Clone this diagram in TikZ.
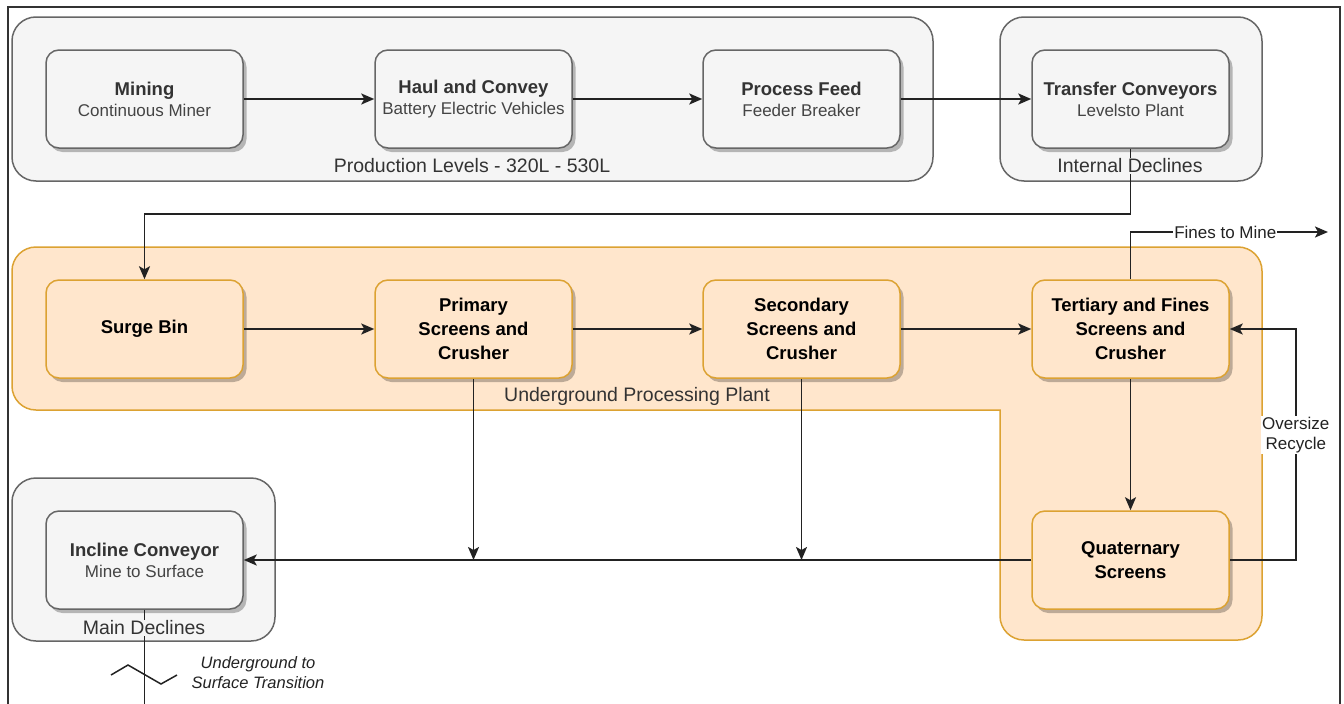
\documentclass[tikz,border=0pt]{standalone}
\usepackage{fontspec}
\setmainfont{Liberation Sans}
\usetikzlibrary{arrows.meta,shadows,calc}

\definecolor{grpfill}{HTML}{F5F5F5}
\definecolor{grpline}{HTML}{666666}
\definecolor{orfill}{HTML}{FFE6CC}
\definecolor{orline}{HTML}{DCA232}
\definecolor{txtdark}{HTML}{333333}
\definecolor{txtsub}{HTML}{444444}
\definecolor{wire}{HTML}{222222}

\tikzset{
  basebox/.style={rounded corners=13pt, minimum width=197pt, minimum height=98pt,
    line width=1.5pt, align=center, inner sep=2pt,
    general shadow={shadow xshift=3.5pt, shadow yshift=-4pt, fill=black, opacity=0.26}},
  graybox/.style={basebox, draw=grpline, fill=grpfill, text=txtdark,
    font=\fontsize{18.5}{22}\selectfont\bfseries},
  orangebox/.style={basebox, draw=orline, fill=orfill, text=black,
    font=\fontsize{18.5}{24}\selectfont\bfseries},
  grpframe/.style={draw=grpline, fill=grpfill, line width=1.5pt, rounded corners=24pt},
  plantframe/.style={draw=orline, fill=orfill, line width=1.5pt},
  grplabel/.style={font=\fontsize{19.5}{22}\selectfont, text=txtdark, inner sep=1pt},
  flow/.style={draw=wire, line width=1.9pt, -{Stealth[length=13pt,width=11pt,inset=3pt]}},
  plain/.style={draw=wire, line width=1.9pt},
  edgelabel/.style={font=\fontsize{17}{20}\selectfont, text=wire, fill=white, inner sep=1pt, align=center},
}

\newcommand{\subline}[1]{\\[-1pt]{\fontsize{17}{20}\selectfont\mdseries\color{txtsub}#1}}

\begin{document}
\begin{tikzpicture}[x=1pt,y=-1pt]
\useasboundingbox (0,0) rectangle (1344,704);

% outer frame (open at the bottom)
\draw[line width=2.2pt, draw=txtdark] (8,710) -- (8,7) -- (1340,7) -- (1340,710);

% group frames
\draw[grpframe] (12,17) rectangle (933,181);
\draw[grpframe] (1000,17) rectangle (1262,181);
\draw[grpframe] (12,478) rectangle (275,641);
\draw[plantframe, rounded corners=24pt]
  (12,330) -- (12,247) -- (1262,247) -- (1262,640) -- (1000,640) -- (1000,500)
  [sharp corners] -- (1000,410) -- (200,410)
  [rounded corners=24pt] -- (12,410) -- cycle;

% production levels
\node[graybox] (mining)   at (144.5,99)  {Mining\subline{Continuous Miner}};
\node[graybox] (haul)     at (473.5,99)  {Haul and Convey\subline{Battery Electric Vehicles}};
\node[graybox] (feed)     at (801.5,99)  {Process Feed\subline{Feeder Breaker}};
\node[graybox] (transfer) at (1130.5,99) {Transfer Conveyors\subline{Levelsto Plant}};

% processing plant
\node[orangebox] (surge)  at (144.5,329)  {Surge Bin};
\node[orangebox] (prim)   at (473.5,329)  {Primary\\Screens and\\Crusher};
\node[orangebox] (sec)    at (801.5,329)  {Secondary\\Screens and\\Crusher};
\node[orangebox] (tert)   at (1130.5,329) {Tertiary and Fines\\Screens and\\Crusher};
\node[orangebox] (quat)   at (1130.5,560) {Quaternary\\Screens};

% main declines
\node[graybox] (incline)  at (144.5,560)  {Incline Conveyor\subline{Mine to Surface}};

\coordinate (finesEnd) at (1328,232);
\coordinate (surface)  at (144.5,712);

% connectors
\draw[flow] (mining) -- (haul);
\draw[flow] (haul) -- (feed);
\draw[flow] (feed) -- (transfer);
\draw[flow] (transfer.south) -- ++(0,65) -| (surge.north);
\draw[flow] (surge) -- (prim);
\draw[flow] (prim) -- (sec);
\draw[flow] (sec) -- (tert);
\draw[flow] (tert) -- (quat);
\draw[flow] (quat.west) -- (incline.east);
\draw[flow] (prim.south) -- (prim.south |- quat.west);
\draw[flow] (sec.south) -- (sec.south |- quat.west);
\draw[flow] (quat.east) -- ++(66,0) |- (tert.east)
  node[edgelabel, pos=0.27] (oversize) {Oversize\\Recycle};
\draw[flow] (tert.north) |- (finesEnd)
  node[edgelabel, pos=0.74] (fines) {Fines to Mine};
\draw[plain] (incline.south) -- (surface);

% group labels
\node[grplabel, fill=grpfill] (prodlbl) at (472,166)  {Production Levels - 320L - 530L};
\node[grplabel, fill=grpfill] (intlbl)  at (1130,166) {Internal Declines};
\node[grplabel, fill=grpfill] (mainlbl) at (144,628)  {Main Declines};
\node[grplabel, fill=orfill]  (plantlbl) at (637,396) {Underground Processing Plant};

% underground to surface break
\draw[plain, line width=1.5pt, line join=miter] (111,675) -- (128,665) -- (161,684) -- (177,675);
\node[font=\fontsize{16.5}{20}\selectfont\itshape, text=wire, align=center] (transition)
  at (258,673) {Underground to\\Surface Transition};

\end{tikzpicture}
\end{document}
